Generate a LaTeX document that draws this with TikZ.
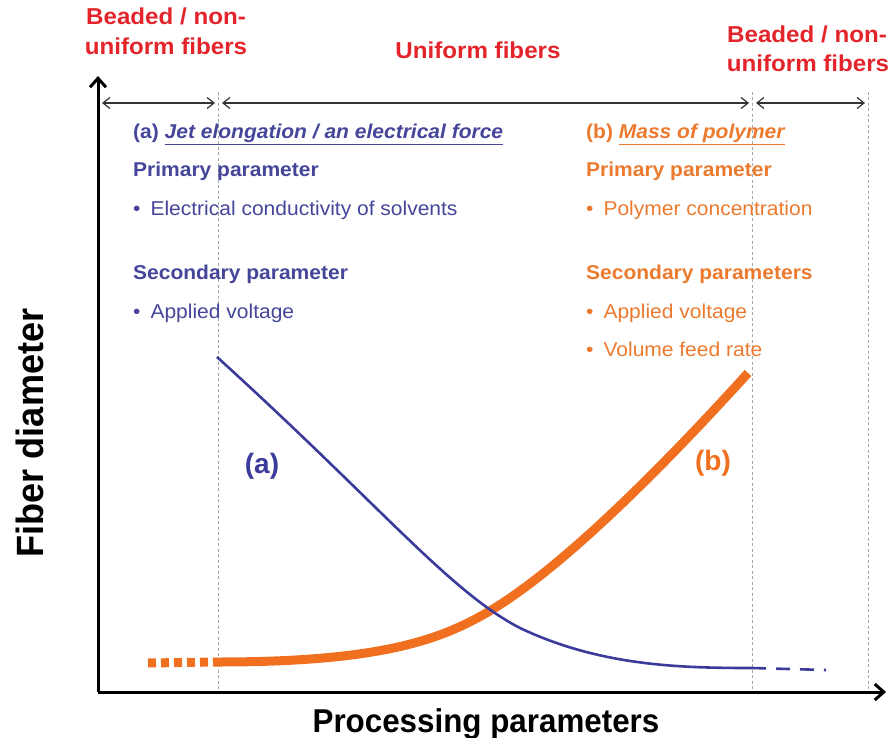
\documentclass[tikz,border=0pt]{standalone}
\usepackage{fontspec}
\setmainfont{Liberation Sans}
\newfontfamily\txtfont[FakeStretch=1.05]{Liberation Sans}
\newfontfamily\axfont[FakeStretch=0.95]{Liberation Sans}
\usetikzlibrary{arrows.meta}
\definecolor{redlab}{HTML}{E3242B}
\definecolor{bluea}{HTML}{3B3B9B}
\definecolor{bluetxt}{HTML}{45459A}
\definecolor{orangeb}{HTML}{F07020}
\definecolor{orangetxt}{HTML}{EC7A2E}
\tikzset{
  toplab/.style={text=redlab, font=\txtfont\fontsize{23}{29}\selectfont\bfseries, anchor=base, inner sep=0},
  body/.style={font=\txtfont\fontsize{20}{24}\selectfont, anchor=base west, inner sep=0},
  head/.style={font=\txtfont\fontsize{20}{24}\selectfont\bfseries, anchor=base west, inner sep=0},
  vguide/.style={draw=gray!70, line width=0.8pt, dash pattern=on 3pt off 2.5pt},
  span/.style={draw=black!80, line width=1.2pt, {Straight Barb[length=7pt,width=11pt]}-{Straight Barb[length=7pt,width=11pt]}},
  axis/.style={draw=black, line width=3pt, -{Straight Barb[length=9pt,width=16pt,line width=3pt]}},
  axlab/.style={font=\axfont\bfseries, anchor=base, inner sep=0},
  curvelab/.style={font=\fontsize{28}{32}\selectfont\bfseries, inner sep=0}
}
\begin{document}
\begin{tikzpicture}[x=1pt,y=-1pt]
\useasboundingbox (0,0) rectangle (894,738);
% guides
\coordinate (g1t) at (218,92); \coordinate (g1b) at (218,692);
\coordinate (g2t) at (752,92); \coordinate (g2b) at (752,692);
\coordinate (g3t) at (868,92); \coordinate (g3b) at (868,692);
\draw[vguide] (g1t) -- (g1b);
\draw[vguide] (g2t) -- (g2b);
\draw[vguide] (g3t) -- (g3b);
% spans
\coordinate (s1a) at (102,103); \coordinate (s1b) at (215,103);
\coordinate (s2a) at (222,103); \coordinate (s2b) at (749,103);
\coordinate (s3a) at (756,103); \coordinate (s3b) at (865,103);
\draw[span] (s1a) -- (s1b);
\draw[span] (s2a) -- (s2b);
\draw[span] (s3a) -- (s3b);
% axes
\coordinate (o) at (98,692);
\coordinate (ytip) at (98,76);
\coordinate (xtip) at (886,692);
\draw[axis] (o) -- (ytip);
\draw[axis] (o) -- (xtip);
% top labels
\node[toplab] (bl1) at (166,25) {Beaded / non-};
\node[toplab] (bl2) at (166,55) {uniform fibers};
\node[toplab] (uf) at (478,59) {Uniform fibers};
\node[toplab] (br1) at (807,43) {Beaded / non-};
\node[toplab] (br2) at (808,72) {uniform fibers};
% (a) text
\node[head, text=bluetxt] (ah) at (133,139) {(a) \underline{\itshape Jet elongation / an electrical force}};
\node[head, text=bluetxt] (ap) at (133,177) {Primary parameter};
\node[body, text=bluetxt] (ap1) at (133,216) {\textbullet\hspace{10pt}Electrical conductivity of solvents};
\node[head, text=bluetxt] (as) at (133,279) {Secondary parameter};
\node[body, text=bluetxt] (as1) at (133,318) {\textbullet\hspace{10pt}Applied voltage};
% (b) text
\node[head, text=orangetxt] (bh) at (586,139) {(b) \underline{\itshape Mass of polymer}};
\node[head, text=orangetxt] (bp) at (586,177) {Primary parameter};
\node[body, text=orangetxt] (bp1) at (586,216) {\textbullet\hspace{10pt}Polymer concentration};
\node[head, text=orangetxt] (bs) at (586,279) {Secondary parameters};
\node[body, text=orangetxt] (bs1) at (586,318) {\textbullet\hspace{10pt}Applied voltage};
\node[body, text=orangetxt] (bs2) at (586,356) {\textbullet\hspace{10pt}Volume feed rate};
% curves
\draw[orangeb, line width=9pt, dash pattern=on 8pt off 5pt] (148,663) -- (218,662);
\draw[orangeb, line width=9pt] (218,662) .. controls (380,662) and (440,640) .. (488,612)
   .. controls (560,570) and (660,470) .. (748,373);
\draw[bluea, line width=2.6pt] (217,357) .. controls (380,505) and (450,592) .. (520,628)
   .. controls (600,666) and (680,668) .. (752,668);
\draw[bluea, line width=2.6pt, dash pattern=on 14pt off 10pt] (752,668) -- (826,670);
\node[curvelab, text=bluea] (la) at (262,466) {(a)};
\node[curvelab, text=orangeb] (lb) at (713,463) {(b)};
% axis labels
\node[axlab, font=\axfont\fontsize{38}{40}\selectfont\bfseries, rotate=90] (yl) at (43,433) {Fiber diameter};
\node[axlab, font=\axfont\fontsize{33}{36}\selectfont\bfseries] (xl) at (486,732) {Processing parameters};
\end{tikzpicture}
\end{document}
